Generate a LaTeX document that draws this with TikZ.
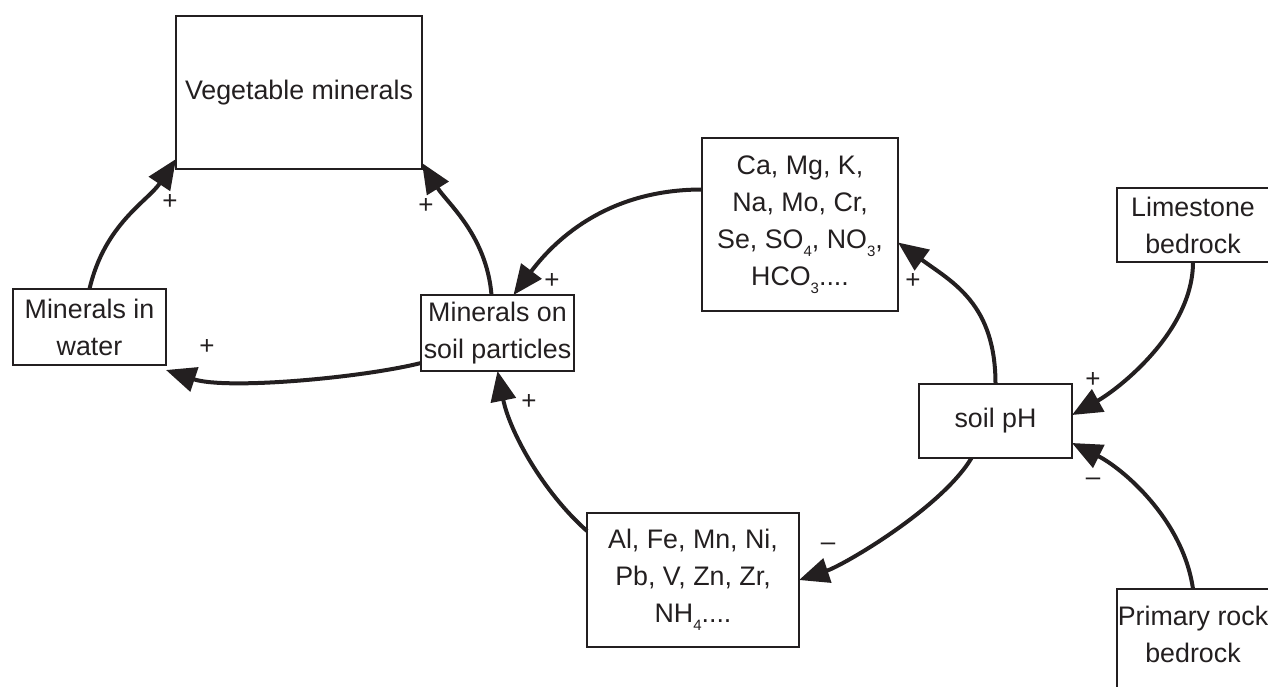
\documentclass[tikz,border=0pt]{standalone}
\usepackage{fontspec}
\setmainfont{Liberation Sans}
\usetikzlibrary{arrows.meta}
\definecolor{ink}{HTML}{231F20}
\newcommand\sbs[1]{\raisebox{-0.6ex}{\fontsize{7.5}{7.5}\selectfont #1}}
\begin{document}
\begin{tikzpicture}[x=0.5pt,y=-0.5pt,
  box/.style={draw=ink, line width=1pt, inner sep=0pt, outer sep=0pt, align=center,
    text=ink, font=\fontsize{13.4}{18.5}\selectfont},
  link/.style={draw=ink, line width=2pt, -{Triangle[length=15pt,width=12.5pt]}},
  sign/.style={text=ink, inner sep=0pt, font=\fontsize{13}{13}\selectfont}]
\useasboundingbox (0,0) rectangle (1268,686);
\clip (0,0) rectangle (1268,686);
% boxes
\node[box, minimum width=123pt, minimum height=76.5pt] (veg) at (299,92.5) {Vegetable minerals};
\node[box, minimum width=76.5pt, minimum height=38pt] (water) at (89.5,327) {Minerals in\\water};
\node[box, minimum width=76.5pt, minimum height=38pt] (soil) at (497.5,333) {Minerals on\\soil particles};
\node[box, minimum width=98pt, minimum height=86.5pt] (ca) at (800,224.5) {Ca, Mg, K,\\Na, Mo, Cr,\\Se, SO\sbs{4}, NO\sbs{3},\\HCO\sbs{3}....};
\node[box, minimum width=76pt, minimum height=37pt] (lime) at (1193,225) {Limestone\\bedrock};
\node[box, minimum width=76.5pt, minimum height=37pt] (ph) at (995.5,421) {soil pH};
\node[box, minimum width=106pt, minimum height=67pt] (al) at (693,580) {Al, Fe, Mn, Ni,\\Pb, V, Zn, Zr,\\NH\sbs{4}....};
\node[box, draw=none, minimum width=76pt, minimum height=45.5pt] (pr) at (1193,634.5) {Primary rock\\bedrock};
\draw[ink, line width=1pt] (pr.south west) ++(0,40) -- (pr.north west) -- (pr.north east);
% connectors
\draw[link] (water.north) .. controls +(15,-65) and +(-28,42) .. ([yshift=5pt]veg.south west);
\draw[link] ([xshift=-3pt]soil.north) .. controls +(-5,-60) and +(25,40) .. ([yshift=3pt]veg.south east);
\draw[link] ([yshift=17.5pt]ca.west) .. controls +(-90,0) and +(45,-60) .. ([xshift=8pt]soil.north);
\draw[link] ([yshift=-15pt]soil.west) .. controls +(-60,15) and +(60,20) .. ([yshift=-2.5pt]water.south east);
\draw[link] ([yshift=-9pt]al.north west) .. controls +(-45,-40) and +(12,60) .. (soil.south);
\draw[link] (ph.north) .. controls +(0,-80) and +(55,40) .. ([yshift=-9pt]ca.east);
\draw[link] (lime.south) .. controls +(0,70) and +(45,-25) .. ([yshift=3pt]ph.east);
\draw[link] (pr.north) .. controls +(-10,-70) and +(50,25) .. ([yshift=-11pt]ph.east);
\draw[link] ([xshift=-12pt]ph.south) .. controls +(-30,50) and +(45,-15) .. (al.east);
% signs
\node[sign] (s1) at (170,202) {+};
\node[sign] (s2) at (426,206) {+};
\node[sign] (s3) at (207,347) {+};
\node[sign] (s4) at (552,281) {+};
\node[sign] (s5) at (529,402) {+};
\node[sign] (s6) at (913,281) {+};
\node[sign] (s7) at (1093,380) {+};
\node[sign] (s8) at (1093,482) {–};
\node[sign] (s9) at (828,547) {–};
\end{tikzpicture}
\end{document}
